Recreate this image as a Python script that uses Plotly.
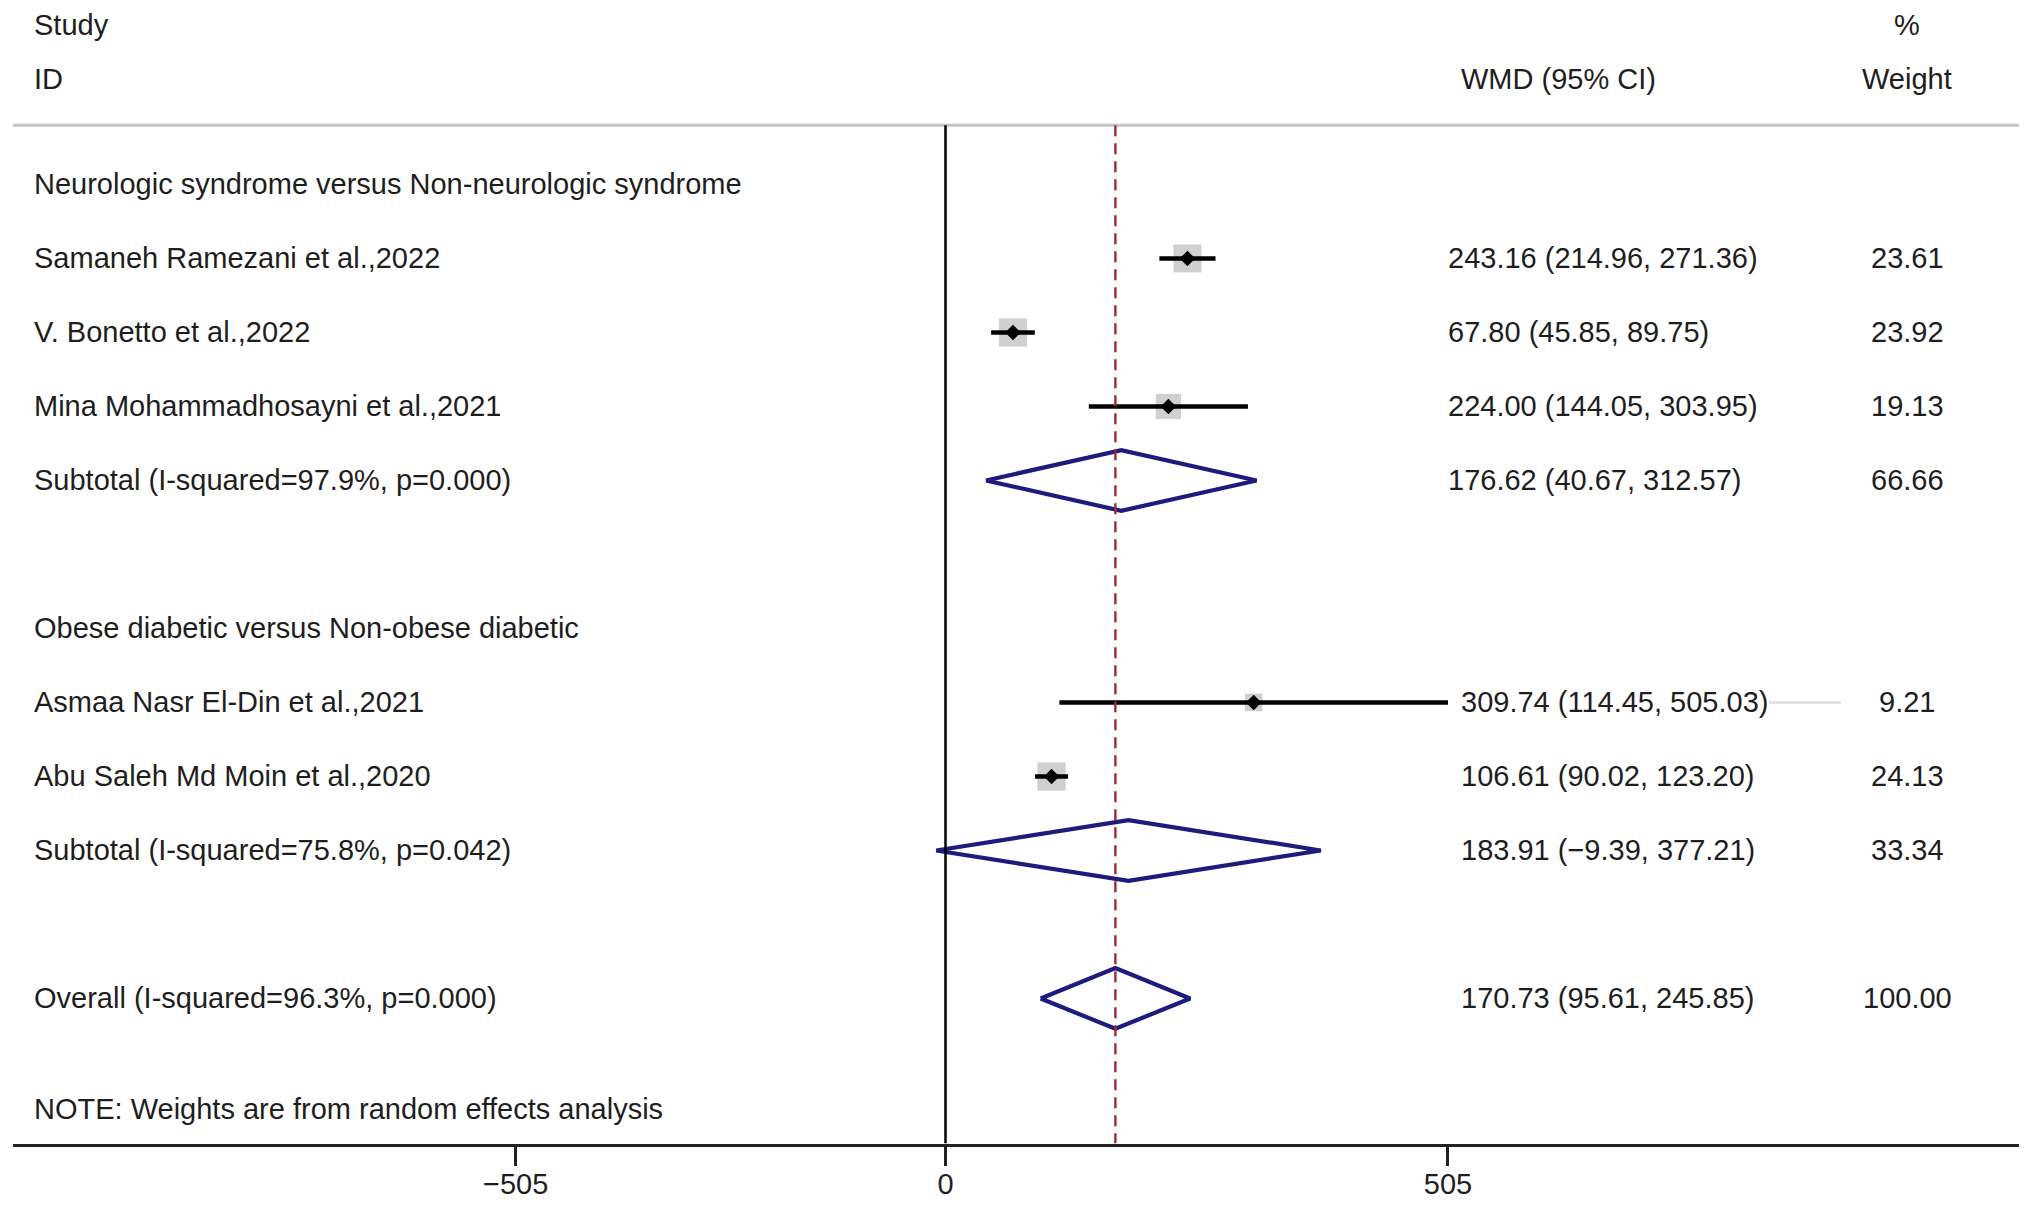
import plotly.graph_objects as go

# ---------------- data ----------------
group_labels = ["Neurologic syndrome versus Non-neurologic syndrome",
                "Obese diabetic versus Non-obese diabetic"]
group_rows = [0, 6]

studies = ["Samaneh Ramezani et al.,2022",
           "V. Bonetto et al.,2022",
           "Mina Mohammadhosayni et al.,2021",
           "Asmaa Nasr El-Din et al.,2021",
           "Abu Saleh Md Moin et al.,2020"]
study_rows = [1, 2, 3, 7, 8]
wmd = [243.16, 67.80, 224.00, 309.74, 106.61]
ci_lo = [214.96, 45.85, 144.05, 114.45, 90.02]
ci_hi = [271.36, 89.75, 303.95, 505.03, 123.20]
weights = [23.61, 23.92, 19.13, 9.21, 24.13]

pooled_labels = ["Subtotal (I-squared=97.9%, p=0.000)",
                 "Subtotal (I-squared=75.8%, p=0.042)",
                 "Overall (I-squared=96.3%, p=0.000)"]
pooled_rows = [4, 9, 11]
pooled_est = [176.62, 183.91, 170.73]
pooled_lo = [40.67, -9.39, 95.61]
pooled_hi = [312.57, 377.21, 245.85]
pooled_w = [66.66, 33.34, 100.00]

tick_vals = [-432, 0, 505]
tick_text = ["\u2212505", "0", "505"]

note = "NOTE: Weights are from random effects analysis"

# ---------------- layout helpers ----------------
W, H = 2032, 1207
FONT = "Liberation Sans, Arial, Helvetica, sans-serif"
FS = 29
TXT = "#1e1e1e"
px = lambda p: p / W  # pixel -> paper x


def fmt(v):
    return f"{v:.2f}".replace("-", "\u2212")


fig = go.Figure()

# weight boxes
fig.add_trace(go.Scatter(
    x=wmd, y=study_rows, mode="markers",
    marker=dict(symbol="square", color="#bcbcbc",
                size=[5.76 * w ** 0.5 for w in weights], line=dict(width=0)),
    hoverinfo="skip", showlegend=False))

# confidence interval lines
cx, cy = [], []
for lo, hi, r in zip(ci_lo, ci_hi, study_rows):
    cx += [lo, hi, None]
    cy += [r, r, None]
fig.add_trace(go.Scatter(x=cx, y=cy, mode="lines",
                         line=dict(color="black", width=4.5),
                         hoverinfo="skip", showlegend=False))

# point estimates
fig.add_trace(go.Scatter(x=wmd, y=study_rows, mode="markers",
                         marker=dict(symbol="diamond", color="black", size=12),
                         hoverinfo="skip", showlegend=False))

# pooled diamonds
dx, dy = [], []
hh = 0.41
for e, lo, hi, r in zip(pooled_est, pooled_lo, pooled_hi, pooled_rows):
    dx += [lo, e, hi, e, lo, None]
    dy += [r, r - hh, r, r + hh, r, None]
fig.add_trace(go.Scatter(x=dx, y=dy, mode="lines",
                         line=dict(color="#1c1c7e", width=4.2),
                         hoverinfo="skip", showlegend=False))

# ---------------- text ----------------
ann = []


def add_text(x_px, y, text, anchor="left"):
    ann.append(dict(x=px(x_px), xref="paper", y=y, yref="y", text=text,
                    showarrow=False, xanchor=anchor, yanchor="middle",
                    font=dict(family=FONT, size=FS, color=TXT)))


add_text(32, -2.16, "Study")
add_text(32, -1.43, "ID")
add_text(1459, -1.43, "WMD (95% CI)")
add_text(1907, -2.16, "%", "center")
add_text(1907, -1.43, "Weight", "center")

for g, r in zip(group_labels, group_rows):
    add_text(32, r, g)

for s, r, e, lo, hi, w in zip(studies, study_rows, wmd, ci_lo, ci_hi, weights):
    add_text(32, r, s)
    add_text(1446 if r <= 4 else 1459, r, f"{fmt(e)} ({fmt(lo)}, {fmt(hi)})")
    add_text(1907, r, f"{w:.2f}", "center")

for s, r, e, lo, hi, w in zip(pooled_labels, pooled_rows, pooled_est, pooled_lo, pooled_hi, pooled_w):
    add_text(32, r, s)
    add_text(1446 if r <= 4 else 1459, r, f"{fmt(e)} ({fmt(lo)}, {fmt(hi)})")
    add_text(1907, r, f"{w:.2f}", "center")

add_text(32, 12.5, note)

# ---------------- shapes ----------------
shapes = [
    # header rule
    dict(type="line", xref="paper", yref="y", x0=px(13), x1=px(2019),
         y0=-0.80, y1=-0.80, line=dict(color="#c4c4c4", width=3)),
    # null line
    dict(type="line", xref="x", yref="y", x0=0, x1=0, y0=-0.80, y1=12.96,
         line=dict(color="black", width=2.5)),
    # overall effect line
    dict(type="line", xref="x", yref="y", x0=pooled_est[-1], x1=pooled_est[-1],
         y0=-0.80, y1=12.96, line=dict(color="#9e2a38", width=2.4, dash="11px,7px")),
    # faint continuation stub next to the Asmaa row
    dict(type="line", xref="paper", yref="y", x0=px(1769), x1=px(1841),
         y0=study_rows[3], y1=study_rows[3], line=dict(color="#e2e2e2", width=3)),
]

fig.update_layout(
    width=W, height=H,
    margin=dict(l=0, r=0, t=0, b=0),
    paper_bgcolor="white", plot_bgcolor="white",
    annotations=ann, shapes=shapes,
    xaxis=dict(domain=[13 / W, 2019 / W], range=[-937.2, 1078.9],
               showgrid=False, zeroline=False,
               showline=True, linecolor="#222", linewidth=3,
               ticks="outside", ticklen=19, tickwidth=2.5, tickcolor="#222",
               tickvals=tick_vals, ticktext=tick_text, ticklabelstandoff=-6,
               tickfont=dict(family=FONT, size=FS, color=TXT)),
    yaxis=dict(domain=[(H - 1143.5) / H, 1], range=[12.96, -2.493],
               visible=False, showgrid=False, zeroline=False),
    showlegend=False,
)

fig.write_html("out.html",
               config={"displayModeBar": False},
               post_script="document.body.style.margin='0px';"
                           "document.body.style.overflow='hidden';")
